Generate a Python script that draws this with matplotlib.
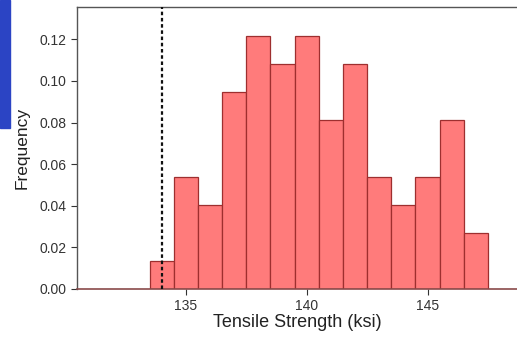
import matplotlib
matplotlib.use("Agg")
import matplotlib.pyplot as plt
from matplotlib.patches import Rectangle

plt.rcParams['font.family'] = ['Liberation Sans', 'DejaVu Sans']

# histogram of tensile strength, bins of width 1 ksi
bin_centers = [134, 135, 136, 137, 138, 139, 140, 141, 142, 143, 144, 145, 146, 147]
counts = [1, 4, 3, 7, 9, 8, 9, 6, 8, 4, 3, 4, 6, 2]
frequency = [c / sum(counts) for c in counts]
spec_limit = 134
y_ticks = [0.00, 0.02, 0.04, 0.06, 0.08, 0.10, 0.12]
x_ticks = [135, 140, 145]

fig = plt.figure(figsize=(5.17, 3.37), dpi=100)
ax = fig.add_axes([77 / 517, 48 / 337, 440 / 517, 282 / 337])

ax.bar(bin_centers, frequency, width=1.0, color='#ff7b7b',
       edgecolor='#9e2f2f', linewidth=0.9, zorder=2)
ax.axvline(spec_limit, color='#111111', linestyle=(0, (1.6, 1.2)),
           linewidth=1.6, zorder=3)

ax.set_xlim(130.5, 148.7)
ax.set_ylim(0, 0.1355)
ax.set_xticks(x_ticks)
ax.set_yticks(y_ticks)
ax.set_yticklabels([f'{v:.2f}' for v in y_ticks])

ax.spines['right'].set_visible(False)
for s in ['top', 'left']:
    ax.spines[s].set_color('#555555')
    ax.spines[s].set_linewidth(1.0)
ax.spines['bottom'].set_color('#8a4a4a')
ax.spines['bottom'].set_linewidth(1.2)

ax.tick_params(axis='both', labelsize=10, colors='#333333', length=4, width=0.8)
ax.tick_params(axis='x', pad=3)
ax.set_xlabel('Tensile Strength (ksi)', fontsize=13, color='#222222', labelpad=1)
ax.set_ylabel('Frequency', fontsize=12.5, color='#222222', labelpad=7)

# blue strip at top-left edge of the original screenshot
fig.patches.append(Rectangle((0, 1 - 128 / 337), 10 / 517, 128 / 337,
                             transform=fig.transFigure, color='#2b44c4', zorder=0))

fig.savefig('out.png', dpi=100)
